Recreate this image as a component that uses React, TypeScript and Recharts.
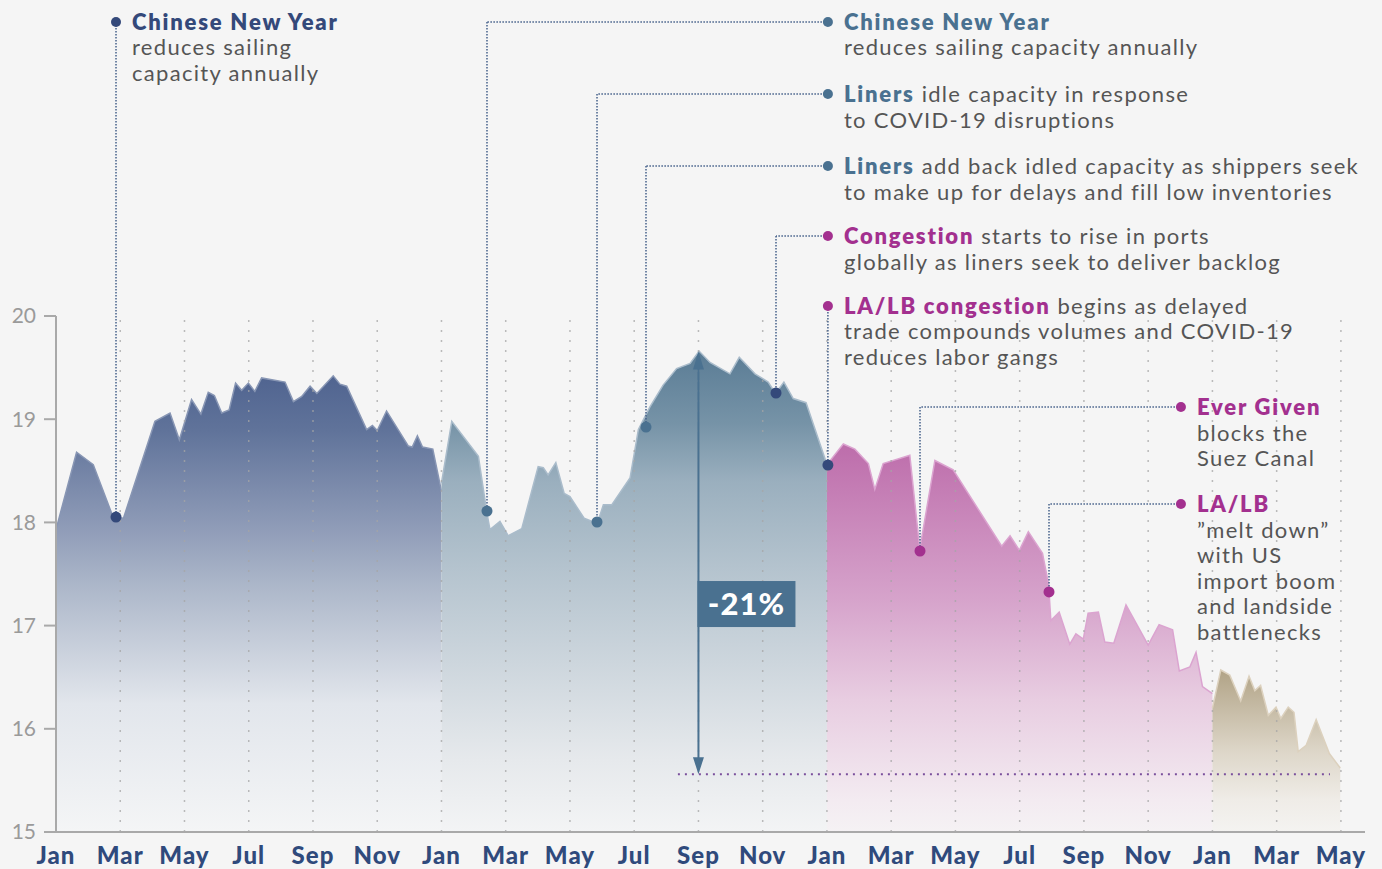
import React from 'react';
import { AreaChart, Area, XAxis, YAxis, ReferenceLine, ReferenceDot } from 'recharts';

// ---- tick labels ----
const monthNames = ['Jan', 'Mar', 'May', 'Jul', 'Sep', 'Nov'];
const xTicks = [0, 2, 4, 6, 8, 10, 12, 14, 16, 18, 20, 22, 24, 26, 28, 30, 32, 34, 36, 38, 40];
const yTicks = [15, 16, 17, 18, 19, 20];

// ---- series values: [month index since Jan of first year, capacity] ----
const year1: [number, number][] = [
  [0, 17.93], [0.64, 18.68], [1.16, 18.56], [1.73, 18.09], [1.87, 18.05], [2.1, 18.04], [3.08, 18.98],
  [3.55, 19.06], [3.84, 18.8], [4.22, 19.19], [4.51, 19.05], [4.74, 19.26], [4.93, 19.23], [5.16, 19.06],
  [5.39, 19.09], [5.59, 19.35], [5.78, 19.28], [5.99, 19.35], [6.19, 19.27], [6.4, 19.4], [7.13, 19.36],
  [7.39, 19.17], [7.65, 19.22], [7.91, 19.32], [8.12, 19.25], [8.63, 19.42], [8.84, 19.34], [9.05, 19.32],
  [9.67, 18.9], [9.85, 18.94], [10.0, 18.89], [10.29, 19.08], [10.97, 18.74], [11.09, 18.73], [11.25, 18.84],
  [11.41, 18.73], [11.73, 18.71], [12.0, 18.3],
];
const year2: [number, number][] = [
  [12.0, 18.38], [12.32, 18.98], [13.15, 18.64], [13.41, 18.1], [13.51, 17.93], [13.82, 18.01], [14.08, 17.87],
  [14.5, 17.94], [15.01, 18.54], [15.17, 18.53], [15.32, 18.46], [15.56, 18.58], [15.82, 18.28], [16.0, 18.25],
  [16.44, 18.04], [16.85, 17.99], [17.04, 18.17], [17.3, 18.17], [17.87, 18.43], [18.13, 18.9], [18.49, 19.12],
  [18.9, 19.33], [19.32, 19.49], [19.74, 19.54], [20.02, 19.66], [20.36, 19.55], [20.98, 19.44], [21.27, 19.6],
  [21.76, 19.44], [22.17, 19.36], [22.4, 19.25], [22.66, 19.36], [22.95, 19.2], [23.35, 19.16], [24.0, 18.56],
];
const year3: [number, number][] = [
  [24.0, 18.56], [24.51, 18.76], [24.87, 18.71], [25.29, 18.57], [25.49, 18.32], [25.75, 18.57], [26.58, 18.65],
  [26.89, 17.74], [27.36, 18.6], [27.93, 18.51], [29.44, 17.77], [29.7, 17.87], [29.99, 17.73], [30.27, 17.91],
  [30.71, 17.7], [30.9, 17.4], [30.97, 17.05], [31.23, 17.13], [31.56, 16.82], [31.75, 16.92], [31.98, 16.87],
  [32.13, 17.12], [32.45, 17.13], [32.65, 16.84], [32.93, 16.83], [33.31, 17.2], [34.0, 16.81], [34.34, 17.01],
  [34.76, 16.96], [34.97, 16.56], [35.3, 16.6], [35.49, 16.74], [35.69, 16.41], [36.0, 16.34],
];
const year4: [number, number][] = [
  [36.0, 16.2], [36.26, 16.57], [36.54, 16.52], [36.88, 16.27], [37.14, 16.51], [37.32, 16.37], [37.5, 16.42],
  [37.74, 16.13], [37.98, 16.21], [38.13, 16.1], [38.36, 16.21], [38.54, 16.16], [38.67, 15.78], [38.92, 15.84],
  [39.23, 16.09], [39.64, 15.76], [39.98, 15.62],
];

// ---- annotations (label anchor and data anchor in data units) ----
type Note = {
  lm: number; lv: number; dm: number; dv: number;
  head: string; tail: string; more: string[];
  headColor: string; labelDot: string; dataDot: string;
};
const notes: Note[] = [
  { lm: 1.868, lv: 22.849, dm: 1.868, dv: 18.052, head: 'Chinese New Year', tail: '', more: ['reduces sailing', 'capacity annually'], headColor: '#34497a', labelDot: '#34497a', dataDot: '#34497a' },
  { lm: 24.03, lv: 22.849, dm: 13.417, dv: 18.11, head: 'Chinese New Year', tail: '', more: ['reduces sailing capacity annually'], headColor: '#4a7190', labelDot: '#4a7190', dataDot: '#4a7190' },
  { lm: 24.03, lv: 22.151, dm: 16.842, dv: 18.004, head: 'Liners', tail: ' idle capacity in response', more: ['to COVID-19 disruptions'], headColor: '#4a7190', labelDot: '#4a7190', dataDot: '#4a7190' },
  { lm: 24.03, lv: 21.453, dm: 18.367, dv: 18.924, head: 'Liners', tail: ' add back idled capacity as shippers seek', more: ['to make up for delays and fill low inventories'], headColor: '#4a7190', labelDot: '#4a7190', dataDot: '#4a7190' },
  { lm: 24.03, lv: 20.775, dm: 22.414, dv: 19.254, head: 'Congestion', tail: ' starts to rise in ports', more: ['globally as liners seek to deliver backlog'], headColor: '#a3308f', labelDot: '#a3308f', dataDot: '#34497a' },
  { lm: 24.03, lv: 20.097, dm: 24.03, dv: 18.556, head: 'LA/LB congestion', tail: ' begins as delayed', more: ['trade compounds volumes and COVID-19', 'reduces labor gangs'], headColor: '#a3308f', labelDot: '#a3308f', dataDot: '#34497a' },
  { lm: 35.02, lv: 19.118, dm: 26.897, dv: 17.723, head: 'Ever Given', tail: '', more: ['blocks the', 'Suez Canal'], headColor: '#a3308f', labelDot: '#a3308f', dataDot: '#a3308f' },
  { lm: 35.02, lv: 18.178, dm: 30.913, dv: 17.326, head: 'LA/LB', tail: '', more: ['\u201Dmelt down\u201D', 'with US', 'import boom', 'and landside', 'battlenecks'], headColor: '#a3308f', labelDot: '#a3308f', dataDot: '#a3308f' },
];

const dropMonth = 20.0;
const dropTop = 19.655;
const dropBottom = 15.56;
const dropLabel = '-21%';
const dropLabelValue = 17.209;
const floorLineStart = 19.36;
const floorLineEnd = 39.66;

// ---- table built from the arrays ----
const table: Record<string, number>[] = [
  ...year1.map(([m, v]) => ({ m, s1: v })),
  ...year2.map(([m, v]) => ({ m, s2: v })),
  ...year3.map(([m, v]) => ({ m, s3: v })),
  ...year4.map(([m, v]) => ({ m, s4: v })),
];

const FONT = 'Lato, "Open Sans", sans-serif';

const XTick = (props: any) => {
  const { x, y, payload } = props;
  const label = monthNames[Math.round(payload.value / 2) % 6];
  return (
    <text x={x} y={y + 32} textAnchor="middle" fill="#2f4a7c" fontSize={24} fontWeight={900} letterSpacing={1} fontFamily={FONT}>
      {label}
    </text>
  );
};

const makeNoteShape = (n: Note) => (p: any) => {
  const { cx, cy } = p;
  return (
    <g>
      <circle cx={cx} cy={cy} r={5} fill={n.labelDot} />
      <text x={cx + 16} y={cy + 8} fontSize={22} fontFamily={FONT} fill="#555" letterSpacing={1.3}>
        <tspan fontWeight={800} fill={n.headColor} letterSpacing={1.8}>{n.head}</tspan>
        {n.tail ? <tspan>{n.tail}</tspan> : null}
      </text>
      {n.more.map((ln, i) => (
        <text key={i} x={cx + 16} y={cy + 8 + (i + 1) * 25.5} fontSize={22} fontFamily={FONT} fill="#555" letterSpacing={1.3}>
          {ln}
        </text>
      ))}
    </g>
  );
};

const ArrowShape = (p: any) => {
  const { x1, y1, x2, y2 } = p;
  const x = x1;
  const top = Math.min(y1, y2);
  const bot = Math.max(y1, y2);
  const c = '#4a7190';
  return (
    <g>
      <line x1={x} y1={top + 12} x2={x2} y2={bot - 12} stroke={c} strokeWidth={2} />
      <polygon points={`${x},${top} ${x - 5.5},${top + 18} ${x + 5.5},${top + 18}`} fill={c} />
      <polygon points={`${x},${bot} ${x - 5.5},${bot - 17} ${x + 5.5},${bot - 17}`} fill={c} />
    </g>
  );
};

const BoxShape = (p: any) => {
  const { cx, cy } = p;
  return (
    <g>
      <rect x={cx - 1} y={cy - 23} width={98} height={46} fill="#4a7190" />
      <text x={cx + 48} y={cy + 11} textAnchor="middle" fill="#fff" fontSize={31} fontWeight={900} letterSpacing={1} fontFamily={FONT}>
        {dropLabel}
      </text>
    </g>
  );
};

const stops = (list: [number, string][]) =>
  list.map(([o, c], i) => <stop key={i} offset={o} stopColor={c} />);

const connectorColor = '#45608a';

export default function App() {
  return (
    <div style={{ position: 'absolute', left: 0, top: 0, width: 1382, height: 869, background: '#f5f5f5', overflow: 'hidden' }}>
      <AreaChart width={1382} height={869} data={table} margin={{ top: 316, right: 17, bottom: 0, left: 0 }}>
        <defs>
          <linearGradient id="g1" x1="0" y1="0" x2="0" y2="1">
            {stops([[0, '#506490'], [0.12, '#60739a'], [0.35, '#939fba'], [0.45, '#aab5c8'], [0.72, '#e2e6ec'], [1, '#f4f5f6']])}
          </linearGradient>
          <linearGradient id="g2" x1="0" y1="0" x2="0" y2="1">
            {stops([[0, '#5a7c95'], [0.15, '#7693a7'], [0.27, '#9aafbe'], [0.45, '#b4c3ce'], [0.85, '#e6e9ec'], [1, '#f3f4f5']])}
          </linearGradient>
          <linearGradient id="g3" x1="0" y1="0" x2="0" y2="1">
            {stops([[0, '#bd6dab'], [0.4, '#d6a3cb'], [0.66, '#e8cde1'], [0.92, '#f3ebf1'], [1, '#f5f2f4']])}
          </linearGradient>
          <linearGradient id="g4" x1="0" y1="0" x2="0" y2="1">
            {stops([[0, '#b1a386'], [0.5, '#ddd6c8'], [0.8, '#efece7'], [1, '#f4f3f1']])}
          </linearGradient>
        </defs>
        <XAxis
          dataKey="m"
          type="number"
          domain={[0, 40.75]}
          ticks={xTicks}
          interval={0}
          tickLine={false}
          tickSize={0}
          tickMargin={0}
          height={37}
          axisLine={{ stroke: '#a9a9a9', strokeWidth: 2 }}
          tick={<XTick />}
        />
        <YAxis
          type="number"
          domain={[15, 20]}
          ticks={yTicks}
          width={56}
          tickSize={12}
          tickMargin={8}
          axisLine={{ stroke: '#a9a9a9', strokeWidth: 2 }}
          tickLine={{ stroke: '#a9a9a9', strokeWidth: 2 }}
          tick={{ fill: '#9a9a9a', fontSize: 21, fontFamily: FONT }}
        />
        <Area type="linear" dataKey="s1" stroke="#8896b4" strokeWidth={1.5} fill="url(#g1)" fillOpacity={1} isAnimationActive={false} dot={false} activeDot={false} />
        <Area type="linear" dataKey="s2" stroke="#aabccb" strokeWidth={1.5} fill="url(#g2)" fillOpacity={1} isAnimationActive={false} dot={false} activeDot={false} />
        <Area type="linear" dataKey="s3" stroke="#dba4d0" strokeWidth={1.5} fill="url(#g3)" fillOpacity={1} isAnimationActive={false} dot={false} activeDot={false} />
        <Area type="linear" dataKey="s4" stroke="#dcd1be" strokeWidth={1.5} fill="url(#g4)" fillOpacity={1} isAnimationActive={false} dot={false} activeDot={false} />

        {xTicks.filter((t) => t > 0).map((t) => (
          <ReferenceLine key={'grid' + t} x={t} stroke="#a5a5a5" strokeOpacity={0.75} strokeWidth={1.5} strokeDasharray="2 8" ifOverflow="visible" />
        ))}

        <ReferenceLine
          segment={[{ x: floorLineStart, y: dropBottom }, { x: floorLineEnd, y: dropBottom }]}
          stroke="#7a4f9c"
          strokeWidth={2}
          strokeDasharray="2 5"
          ifOverflow="visible"
        />
        <ReferenceLine
          segment={[{ x: dropMonth, y: dropTop }, { x: dropMonth, y: dropBottom }]}
          ifOverflow="visible"
          shape={ArrowShape}
        />
        <ReferenceDot x={dropMonth} y={dropLabelValue} ifOverflow="visible" shape={BoxShape} />

        {notes.map((n, i) =>
          n.dm !== n.lm ? (
            <ReferenceLine
              key={'h' + i}
              segment={[{ x: n.lm, y: n.lv }, { x: n.dm, y: n.lv }]}
              stroke={connectorColor}
              strokeWidth={1.5}
              strokeDasharray="1.5 1.5"
              ifOverflow="visible"
            />
          ) : null
        )}
        {notes.map((n, i) => (
          <ReferenceLine
            key={'v' + i}
            segment={[{ x: n.dm, y: n.lv }, { x: n.dm, y: n.dv }]}
            stroke={connectorColor}
            strokeWidth={1.5}
            strokeDasharray="1.5 1.5"
            ifOverflow="visible"
          />
        ))}
        {notes.map((n, i) => (
          <ReferenceDot key={'d' + i} x={n.dm} y={n.dv} r={5.5} fill={n.dataDot} stroke="none" ifOverflow="visible" />
        ))}
        {notes.map((n, i) => (
          <ReferenceDot key={'l' + i} x={n.lm} y={n.lv} ifOverflow="visible" shape={makeNoteShape(n)} />
        ))}
      </AreaChart>
    </div>
  );
}
